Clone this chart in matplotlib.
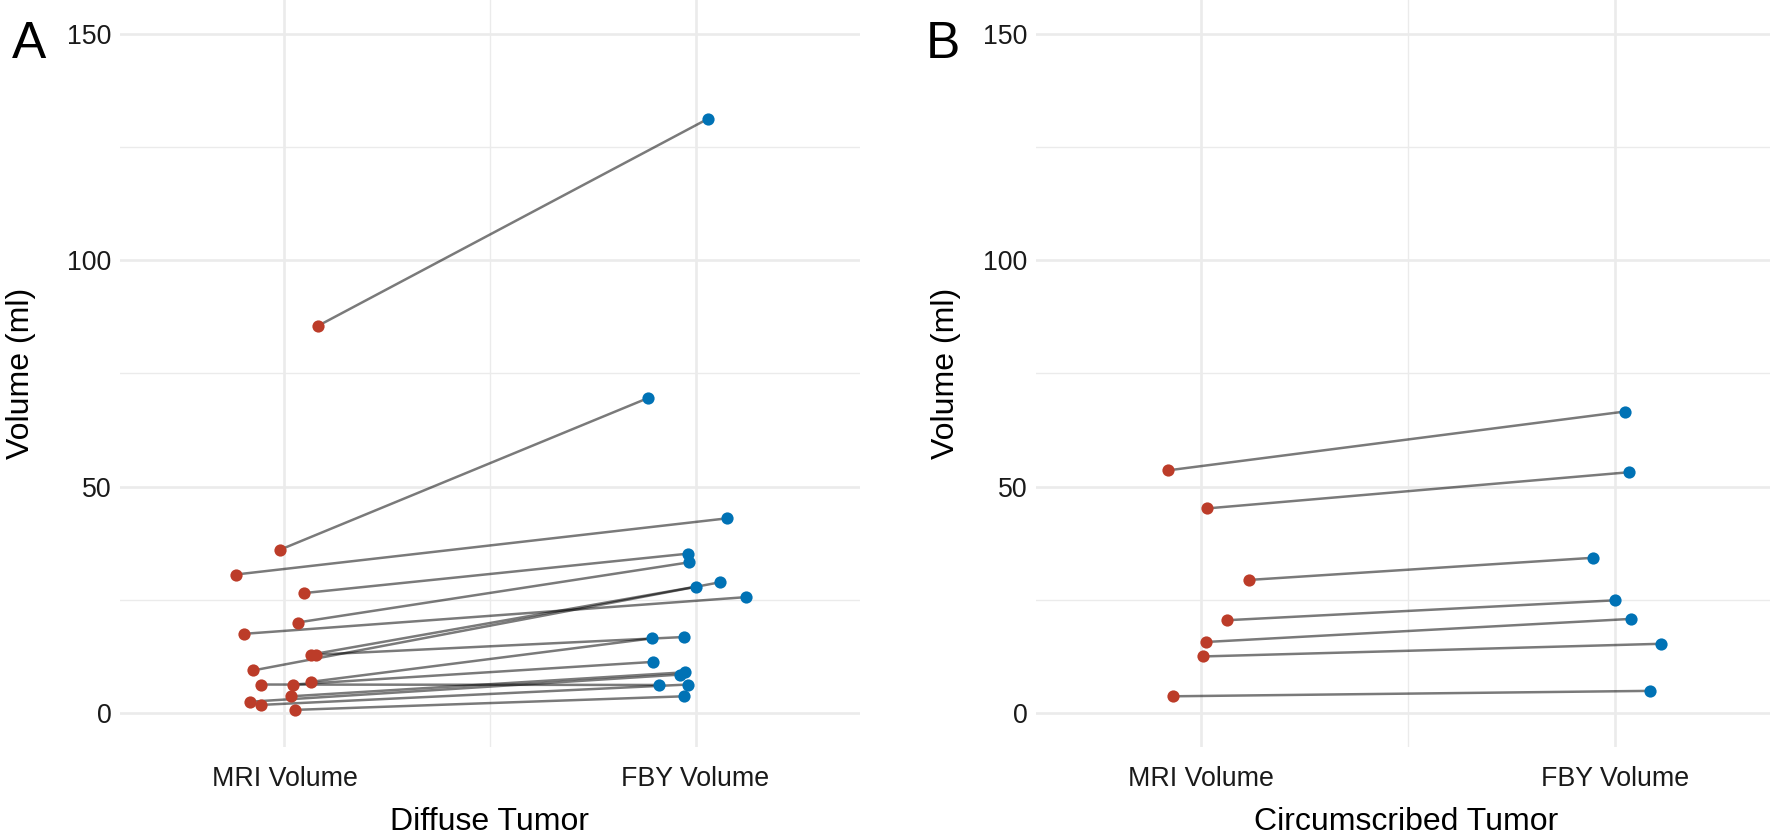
import numpy as np
import matplotlib
matplotlib.use("Agg")
import matplotlib.pyplot as plt

plt.rcParams['font.family'] = ['Liberation Sans', 'DejaVu Sans']

# panel A: diffuse tumor (MRI volume -> FBY volume, ml)
mri_a = [85.5, 36.1, 30.6, 26.5, 20.0, 17.5, 12.9, 12.9, 9.4, 6.9, 6.3, 6.3, 3.7, 2.5, 1.8, 0.7]
fby_a = [131.3, 69.6, 43.0, 35.2, 33.3, 25.6, 27.9, 16.8, 28.9, 16.5, 11.3, 6.2, 9.0, 8.5, 6.3, 3.7]
# horizontal jitter (category units)
jit_mri_a = [0.081, -0.010, -0.118, 0.048, 0.032, -0.098, 0.064, 0.076, -0.077, 0.065,
             0.021, -0.056, 0.016, -0.083, -0.057, 0.026]
jit_fby_a = [0.031, -0.115, 0.076, -0.019, -0.015, 0.122, 0.000, -0.027, 0.060, -0.106,
             -0.103, -0.088, -0.026, -0.037, -0.019, -0.028]

# panel B: circumscribed tumor
mri_b = [53.6, 45.2, 29.4, 20.5, 15.7, 12.5, 3.7]
fby_b = [66.6, 53.2, 34.3, 24.9, 20.8, 15.3, 4.9]
jit_mri_b = [-0.081, 0.014, 0.115, 0.061, 0.012, 0.003, -0.069]
jit_fby_b = [0.024, 0.035, -0.052, 0.000, 0.040, 0.112, 0.086]

categories = ["MRI Volume", "FBY Volume"]
yticks = [0, 50, 100, 150]
red = "#BC3C29"
blue = "#0072B5"

W, H = 1770, 839
fig = plt.figure(figsize=(W / 100, H / 100), dpi=100)


def panel(ax, mri, fby, jm, jf, xlim):
    ax.set_xlim(*xlim)
    ax.set_ylim(-7.5, 157.5)
    for sp in ax.spines.values():
        sp.set_visible(False)
    # grid like theme_minimal
    for y in [25, 75, 125]:
        ax.axhline(y, color="#EBEBEB", lw=1.0, zorder=0)
    for y in yticks:
        ax.axhline(y, color="#EBEBEB", lw=1.9, zorder=0)
    ax.axvline(1.5, color="#EBEBEB", lw=1.0, zorder=0)
    for x in [1, 2]:
        ax.axvline(x, color="#EBEBEB", lw=1.9, zorder=0)
    x1 = 1 + np.array(jm)
    x2 = 2 + np.array(jf)
    for a, b, m, f in zip(x1, x2, mri, fby):
        ax.plot([a, b], [m, f], color="black", alpha=0.52, lw=1.8, zorder=2,
                solid_capstyle="butt")
    ax.plot(x1, mri, "o", color=red, ms=8.8, mew=0, zorder=3)
    ax.plot(x2, fby, "o", color=blue, ms=8.8, mew=0, zorder=3)
    ax.set_xticks([1, 2])
    ax.set_xticklabels(categories, fontsize=19.3, color="#1a1a1a")
    ax.set_yticks(yticks)
    ax.set_yticklabels([str(v) for v in yticks], fontsize=19.3, color="#1a1a1a")
    ax.tick_params(axis="both", length=0)
    ax.tick_params(axis="y", pad=6)
    ax.tick_params(axis="x", pad=14)


axA = fig.add_axes([120 / W, 1 - 747 / H, 740 / W, 747 / H])
panel(axA, mri_a, fby_a, jit_mri_a, jit_fby_a, (0.6, 2.4))
axB = fig.add_axes([1036 / W, 1 - 747 / H, 734 / W, 747 / H])
panel(axB, mri_b, fby_b, jit_mri_b, jit_fby_b, (0.6, 2.375))

# axis titles
fig.text(21 / W, 1 - 373 / H, "Volume (ml)", rotation=90, ha="center", va="center", fontsize=23)
fig.text(946 / W, 1 - 373 / H, "Volume (ml)", rotation=90, ha="center", va="center", fontsize=23)
fig.text(490 / W, 1 - 822 / H, "Diffuse Tumor", ha="center", va="center", fontsize=23)
fig.text(1406 / W, 1 - 822 / H, "Circumscribed Tumor", ha="center", va="center", fontsize=23)

# panel tags
fig.text(12 / W, 1 - 58 / H, "A", ha="left", va="baseline", fontsize=37)
fig.text(926 / W, 1 - 58 / H, "B", ha="left", va="baseline", fontsize=37)

fig.savefig("out.png", dpi=100)
